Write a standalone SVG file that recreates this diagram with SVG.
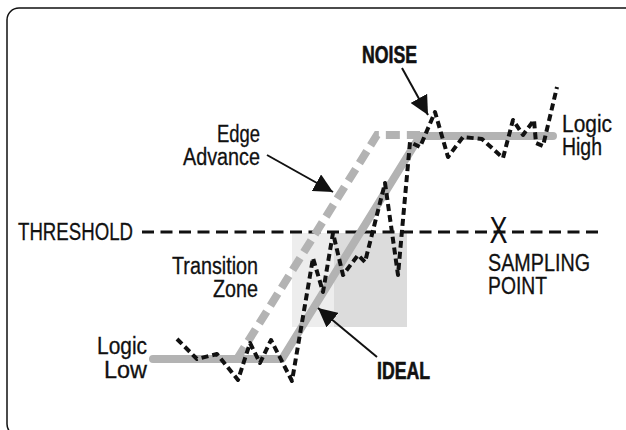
<svg xmlns="http://www.w3.org/2000/svg" width="626" height="430" viewBox="0 0 626 430">
<style>
.t{font-family:"Liberation Sans",Arial,sans-serif;font-size:23.5px;fill:#111;stroke:#111;stroke-width:0.3}
.b{font-family:"Liberation Sans",Arial,sans-serif;font-size:23.5px;font-weight:bold;fill:#111;stroke:#111;stroke-width:0.6}
.ideal{fill:none;stroke:#b3b3b3;stroke-width:8;stroke-linecap:round;stroke-linejoin:round}
.adv{fill:none;stroke:#b3b3b3;stroke-width:8;stroke-dasharray:14 7}
.noise{fill:none;stroke:#111;stroke-width:4;stroke-dasharray:7 4;stroke-linejoin:round}
.thr{fill:none;stroke:#111;stroke-width:3;stroke-dasharray:12 6.5}
.arr{fill:none;stroke:#111;stroke-width:2}
</style>
<defs>
<marker id="ah2" viewBox="0 0 10 10" refX="10" refY="5" markerWidth="19" markerHeight="19" markerUnits="userSpaceOnUse" orient="auto">
<path d="M0,0 L10,5 L0,10 z" fill="#111"/>
</marker>
</defs>
<rect x="7" y="8" width="630" height="428" rx="12" fill="none" stroke="#111" stroke-width="1.5"/>

<g id="transition-zone">
<rect x="292" y="233" width="42" height="94" fill="#ededed"/>
<rect x="334" y="233" width="73" height="94" fill="#dcdcdc"/>
</g>

<g id="threshold">
<line class="thr" x1="142" y1="232" x2="600" y2="232"/>
<text class="t" x="18" y="240" textLength="115" lengthAdjust="spacingAndGlyphs">THRESHOLD</text>
</g>

<g id="ideal">
<polyline class="ideal" points="153,359 282,359 420,136 553,136"/>
</g>

<g id="edge-advance">
<polyline class="adv" points="237,359 377,135 420,135"/>
</g>

<g id="noise">
<polyline class="noise" points="177,339 197,359 217,354 238,380 250,343 260,363 271,340 292,381 313,258 323,292 333,233 343,275 358,255 365,262 385,183 398,275 410,142 420,147 435,112 448,157 463,137 482,139 503,158 513,120 523,135 534,120 536,143 543,146 557,87"/>
</g>

<g id="labels">
<text class="t" text-anchor="end" x="147" y="354" textLength="50" lengthAdjust="spacingAndGlyphs">Logic</text>
<text class="t" text-anchor="end" x="147" y="378" textLength="43" lengthAdjust="spacingAndGlyphs">Low</text>
<text class="t" text-anchor="end" x="258" y="274" textLength="86" lengthAdjust="spacingAndGlyphs">Transition</text>
<text class="t" text-anchor="end" x="258" y="297" textLength="45" lengthAdjust="spacingAndGlyphs">Zone</text>
<text class="t" text-anchor="end" x="260" y="142" textLength="43" lengthAdjust="spacingAndGlyphs">Edge</text>
<text class="t" text-anchor="end" x="260" y="165" textLength="77" lengthAdjust="spacingAndGlyphs">Advance</text>
<text class="t" x="562" y="132" textLength="50" lengthAdjust="spacingAndGlyphs">Logic</text>
<text class="t" x="562" y="155" textLength="40" lengthAdjust="spacingAndGlyphs">High</text>
<text class="t" x="488" y="271" textLength="102" lengthAdjust="spacingAndGlyphs">SAMPLING</text>
<text class="t" x="488" y="294" textLength="59" lengthAdjust="spacingAndGlyphs">POINT</text>
<text class="b" x="362" y="63" textLength="55" lengthAdjust="spacingAndGlyphs">NOISE</text>
<text class="b" x="377" y="379" textLength="53" lengthAdjust="spacingAndGlyphs">IDEAL</text>
</g>

<g id="sampling-point">
<text x="498.5" y="243" text-anchor="middle" style="font-family:'Liberation Sans',Arial,sans-serif;font-size:36px;fill:#111" textLength="18" lengthAdjust="spacingAndGlyphs">X</text>
</g>

<g id="connectors">
<line class="arr" x1="402" y1="68" x2="428" y2="115" marker-end="url(#ah2)"/>
<line class="arr" x1="267" y1="155" x2="333" y2="192" marker-end="url(#ah2)"/>
<line class="arr" x1="377" y1="357" x2="318" y2="308" marker-end="url(#ah2)"/>
</g>
</svg>
